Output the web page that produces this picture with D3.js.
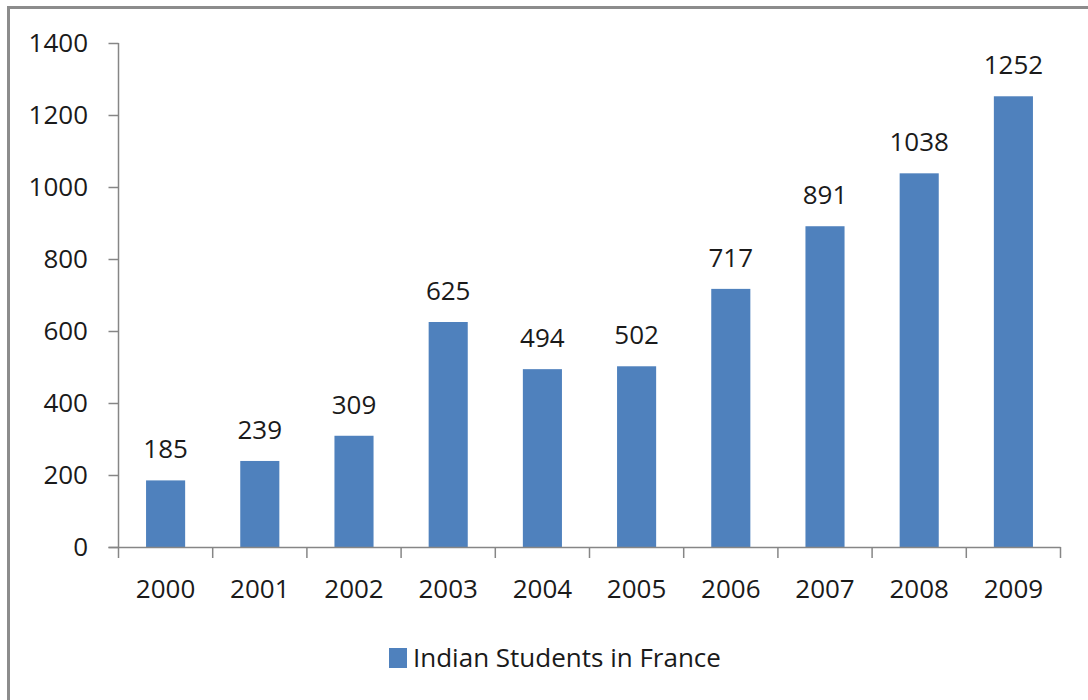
<!DOCTYPE html>
<html>
<head>
<meta charset="utf-8">
<script src="https://cdn.jsdelivr.net/npm/d3@7"></script>
<style>
  body { margin: 0; background: #fff; }
  svg { display: block; font-family: "Open Sans", Lato, sans-serif; }
</style>
</head>
<body>
<svg width="1088" height="700"></svg>
<script>
const years = ['2000', '2001', '2002', '2003', '2004', '2005', '2006', '2007', '2008', '2009'];
const students = [185, 239, 309, 625, 494, 502, 717, 891, 1038, 1252];
const yTicks = [0, 200, 400, 600, 800, 1000, 1200, 1400];
const seriesName = 'Indian Students in France';

const svg = d3.select('svg');
const barColor = '#4f81bd';
const axisColor = '#868686';
const textColor = '#1a1a1a';
const fontSize = 26;

// outer frame, right and bottom edges run off the picture
svg.append('rect')
  .attr('x', 8.5).attr('y', 7.5)
  .attr('width', 1100).attr('height', 720)
  .attr('fill', 'none')
  .attr('stroke', '#8c8c8c')
  .attr('stroke-width', 3);

const plotLeft = 118.5, plotRight = 1060.5, plotTop = 43, plotBottom = 547;

const x = d3.scaleBand()
  .domain(years)
  .range([plotLeft, plotRight])
  .paddingInner(0.585)
  .paddingOuter(0.2925);

const y = d3.scaleLinear()
  .domain([0, 1400])
  .range([plotBottom, plotTop]);

const data = years.map((year, i) => ({ year: year, value: students[i] }));

svg.selectAll('rect.bar')
  .data(data)
  .enter()
  .append('rect')
  .attr('class', 'bar')
  .attr('x', (d) => x(d.year))
  .attr('y', (d) => y(d.value))
  .attr('width', x.bandwidth())
  .attr('height', (d) => y(0) - y(d.value))
  .attr('fill', barColor);

svg.selectAll('text.value')
  .data(data)
  .enter()
  .append('text')
  .attr('class', 'value')
  .attr('x', (d) => x(d.year) + x.bandwidth() / 2)
  .attr('y', (d) => y(d.value) - 22)
  .attr('text-anchor', 'middle')
  .attr('font-size', fontSize)
  .attr('fill', textColor)
  .text((d) => d.value);

// y axis
const yAxis = svg.append('g');
yAxis.append('line')
  .attr('x1', plotLeft).attr('x2', plotLeft)
  .attr('y1', y(1400)).attr('y2', plotBottom)
  .attr('stroke', axisColor).attr('stroke-width', 1.5);
yAxis.selectAll('line.tick')
  .data(yTicks)
  .enter()
  .append('line')
  .attr('class', 'tick')
  .attr('x1', plotLeft - 10).attr('x2', plotLeft)
  .attr('y1', (d) => Math.round(y(d)) + 0.5)
  .attr('y2', (d) => Math.round(y(d)) + 0.5)
  .attr('stroke', axisColor).attr('stroke-width', 1.5);
yAxis.selectAll('text')
  .data(yTicks)
  .enter()
  .append('text')
  .attr('x', 88)
  .attr('y', (d) => y(d))
  .attr('dy', '0.35em')
  .attr('text-anchor', 'end')
  .attr('font-size', fontSize)
  .attr('fill', textColor)
  .text((d) => d);

// x axis
const xAxis = svg.append('g');
xAxis.append('line')
  .attr('x1', plotLeft - 10).attr('x2', plotRight)
  .attr('y1', plotBottom + 0.5).attr('y2', plotBottom + 0.5)
  .attr('stroke', axisColor).attr('stroke-width', 1.5);
const step = x.step();
xAxis.selectAll('line.tick')
  .data(d3.range(years.length + 1))
  .enter()
  .append('line')
  .attr('class', 'tick')
  .attr('x1', (i) => plotLeft + i * step)
  .attr('x2', (i) => plotLeft + i * step)
  .attr('y1', plotBottom).attr('y2', plotBottom + 11)
  .attr('stroke', axisColor).attr('stroke-width', 1.5);
xAxis.selectAll('text')
  .data(years)
  .enter()
  .append('text')
  .attr('x', (d) => x(d) + x.bandwidth() / 2)
  .attr('y', 589)
  .attr('dy', '0.35em')
  .attr('text-anchor', 'middle')
  .attr('font-size', fontSize)
  .attr('fill', textColor)
  .text((d) => d);

// legend
const legend = svg.append('g');
legend.append('rect')
  .attr('x', 389).attr('y', 648)
  .attr('width', 18).attr('height', 20)
  .attr('fill', barColor);
legend.append('text')
  .attr('x', 413).attr('y', 658)
  .attr('dy', '0.35em')
  .attr('font-size', fontSize)
  .attr('fill', textColor)
  .text(seriesName);
</script>
</body>
</html>
